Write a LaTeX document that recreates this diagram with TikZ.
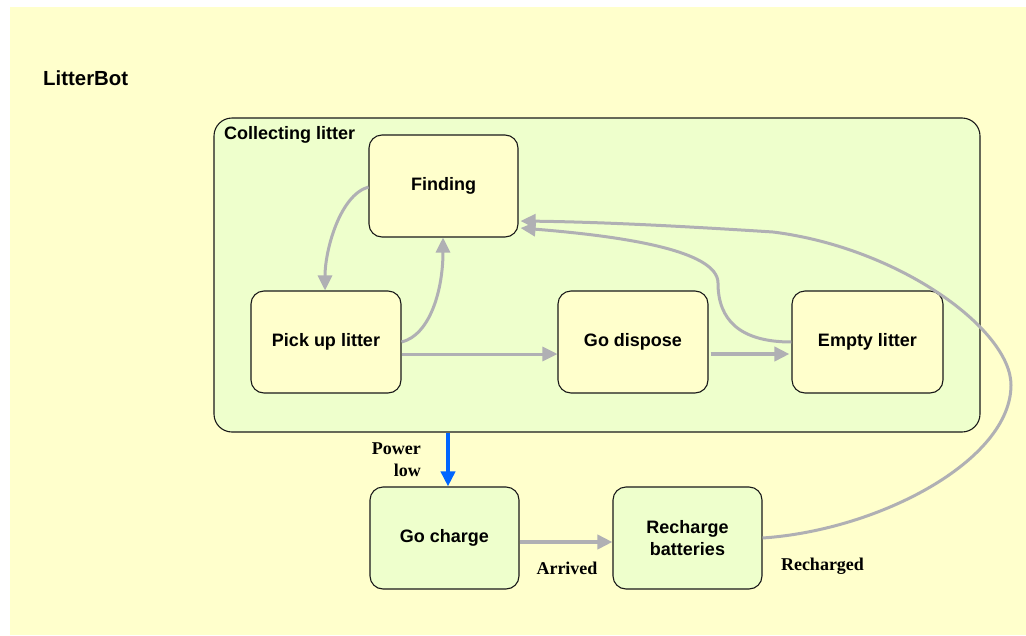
\documentclass[tikz,border=0pt]{standalone}
\usepackage{fontspec}
\setmainfont{Liberation Serif}
\setsansfont{Liberation Sans}
\usetikzlibrary{arrows.meta}
\definecolor{paleyellow}{HTML}{FFFFCC}
\definecolor{palegreen}{HTML}{EEFFCC}
\definecolor{edgegray}{HTML}{B0B0B4}
\definecolor{powerblue}{HTML}{0066FF}
\definecolor{boxline}{HTML}{1A1A1A}
\tikzset{
  x=1pt, y=1pt,
  statebox/.style={draw=boxline, line width=1.1pt, rounded corners=13pt,
    inner sep=0pt, minimum width=150pt, minimum height=102pt, align=center,
    font=\fontsize{18}{22}\selectfont\sffamily\bfseries},
  inner/.style={statebox, fill=paleyellow},
  outer/.style={statebox, fill=palegreen},
  tip/.style={-{Triangle[length=15pt,width=14pt]}},
  flow/.style={tip, draw=edgegray, line width=3pt},
  heavyflow/.style={tip, draw=edgegray, line width=4.5pt},
  power/.style={tip, draw=powerblue, line width=4pt},
  evlabel/.style={font=\fontsize{18}{22}\selectfont\rmfamily\bfseries, inner sep=0pt},
  title/.style={font=\fontsize{18}{22}\selectfont\sffamily\bfseries, inner sep=0pt, anchor=west}
}
\begin{document}
\begin{tikzpicture}
  % canvas and background panel
  \useasboundingbox (0,0) rectangle (1026,-635);
  \fill[white] (0,0) rectangle (1026,-635);
  \fill[paleyellow] (10,-7) rectangle (1026,-635);

  \node[title, font=\fontsize{20.4}{24}\selectfont\sffamily\bfseries] (bot) at (43,-78) {LitterBot};

  % composite state
  \node[draw=boxline, line width=1.1pt, fill=palegreen, rounded corners=18pt,
        minimum width=766pt, minimum height=314pt, inner sep=0pt] (cont) at (597,-275) {};
  \node[title] (contlabel) at (224,-135) {Collecting litter};

  % sub-states
  \node[inner, minimum width=149pt] (find) at (443.5,-186) {Finding};
  \node[inner] (pick) at (326,-342) {Pick up litter};
  \node[inner] (disp) at (633,-342) {Go dispose};
  \node[inner, minimum width=151pt] (empty) at (867.5,-342) {Empty litter};

  % charging states
  \node[outer, minimum width=149pt] (charge) at (444.5,-538) {Go charge};
  \node[outer, minimum width=149pt] (rech) at (687.5,-538) {Recharge\\batteries};

  % transitions inside the composite state
  \draw[flow] ([yshift=-1pt]find.west) .. controls (340,-195) and (325,-250) .. ([xshift=-1pt]pick.north);
  \draw[flow] (pick.east) .. controls (430,-335) and (443,-290) .. ([xshift=-0.5pt]find.south);
  \draw[flow] ([yshift=-12pt]pick.east) -- ([yshift=-12pt]disp.west);
  \draw[heavyflow] ([xshift=2pt,yshift=-12pt]disp.east) -- ([xshift=-2pt,yshift=-12pt]empty.west);
  \draw[flow] (empty.west) .. controls (740,-342) and (718,-320) .. (718,-283)
        .. controls (718,-250) and (620,-236) .. ([xshift=2pt,yshift=-42pt]find.east);

  % power handling
  \draw[power] ([xshift=-149pt]cont.south) -- ([xshift=3.5pt]charge.north);
  \draw[heavyflow, line width=4pt] ([yshift=-4pt]charge.east) -- ([yshift=-4pt]rech.west);
  \draw[flow] (rech.east) .. controls (880,-530) and (1011,-460) .. (1011,-385)
        .. controls (1011,-330) and (900,-248) .. (773,-232)
        .. controls (680,-226) and (600,-222) .. ([xshift=2pt,yshift=-35pt]find.east);

  % event labels
  \node[evlabel, align=right, anchor=north east] (lowlbl) at (421,-443) {Power\\low};
  \node[evlabel] (arrlbl) at (567,-568) {Arrived};
  \node[evlabel] (reclbl) at (822.5,-566) {Recharged};
\end{tikzpicture}
\end{document}
